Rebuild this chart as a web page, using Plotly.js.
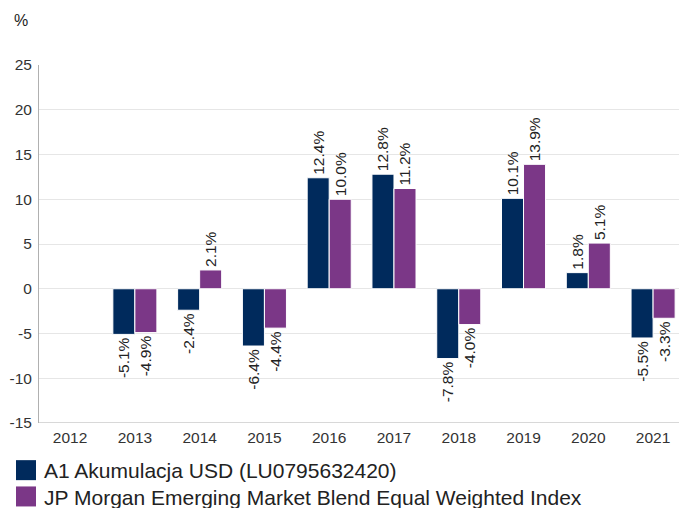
<!DOCTYPE html>
<html><head><meta charset="utf-8">
<script src="https://cdn.plot.ly/plotly-3.0.1.min.js"></script>
<style>html,body{margin:0;padding:0;background:#fff}#c{width:679px;height:508px}</style>
</head><body><div id="c"></div>
<script>
const years = ['2012','2013','2014','2015','2016','2017','2018','2019','2020','2021'];
const fundName = 'A1 Akumulacja USD (LU0795632420)';
const indexName = 'JP Morgan Emerging Market Blend Equal Weighted Index';
const fundValues = [null, -5.1, -2.4, -6.4, 12.4, 12.8, -7.8, 10.1, 1.8, -5.5];
const indexValues = [null, -4.9, 2.1, -4.4, 10.0, 11.2, -4.0, 13.9, 5.1, -3.3];
const yTicks = [-15, -10, -5, 0, 5, 10, 15, 20, 25];

const FONT = 'Liberation Sans, Arial, sans-serif';
const fmt = v => v === null ? '' : v.toFixed(1) + '%';
const mk = (name, vals, color) => ({
  type: 'bar', name: name, x: years, y: vals,
  text: vals.map(fmt), textposition: 'outside', textangle: -90,
  textfont: {family: FONT, size: 15.5, color: '#222'},
  cliponaxis: false, constraintext: 'none',
  marker: {color: color, line: {color: '#ffffff', width: 1}},
  hoverinfo: 'none'
});
const data = [mk(fundName, fundValues, '#002a5c'), mk(indexName, indexValues, '#7b3787')];
const layout = {
  width: 679, height: 508,
  margin: {l: 39, r: 0, t: 65, b: 85, autoexpand: false},
  paper_bgcolor: '#fff', plot_bgcolor: '#fff',
  font: {family: FONT, color: '#333'},
  barmode: 'group', bargap: 0.32, bargroupgap: 0,
  xaxis: {type: 'category', range: [-0.48, 9.4], showgrid: false, zeroline: false,
    showline: false, ticks: '', tickangle: 0, ticklabelstandoff: 3,
    tickfont: {size: 15.5, color: '#333'}, automargin: false},
  yaxis: {range: [-15, 25], tickvals: yTicks, ticktext: yTicks.map(String),
    showgrid: true, gridcolor: '#e6e6e6', gridwidth: 1, zeroline: false,
    showline: true, linecolor: '#b0b0b0', linewidth: 1, ticks: '', ticklen: 0,
    ticklabelstandoff: 3, tickfont: {size: 15.5, color: '#333'}, automargin: false},
  shapes: [{type: 'line', xref: 'paper', yref: 'y', x0: 0, x1: 1, y0: -15, y1: -15,
    line: {color: '#b0b0b0', width: 1}}],
  annotations: [{text: '%', xref: 'paper', yref: 'paper', x: -27/640, y: 1 + 45/358,
    xanchor: 'left', yanchor: 'middle', showarrow: false, font: {size: 16, color: '#222'}}],
  showlegend: true,
  legend: {orientation: 'v', x: -35/640, y: -27/358,
    xanchor: 'left', yanchor: 'top', font: {size: 21, color: '#222'},
    itemwidth: 30, tracegroupgap: 0, bgcolor: 'rgba(0,0,0,0)'}
};
Plotly.newPlot('c', data, layout, {displayModeBar: false, staticPlot: true}).then(gd => {
  gd.querySelectorAll('.legend .legendpoints path').forEach(p => {
    p.setAttribute('d', 'M12,10H-8V-10H12Z');
    p.style.strokeWidth = '0px';
  });
  gd.querySelectorAll('.legend .traces').forEach((t, i) => {
    const m = /translate\(([-\d.]+),\s*([-\d.]+)\)/.exec(t.getAttribute('transform') || '');
    if (m) t.setAttribute('transform', `translate(${m[1]},${parseFloat(m[2]) - 4 * i})`);
  });
});
</script></body></html>
